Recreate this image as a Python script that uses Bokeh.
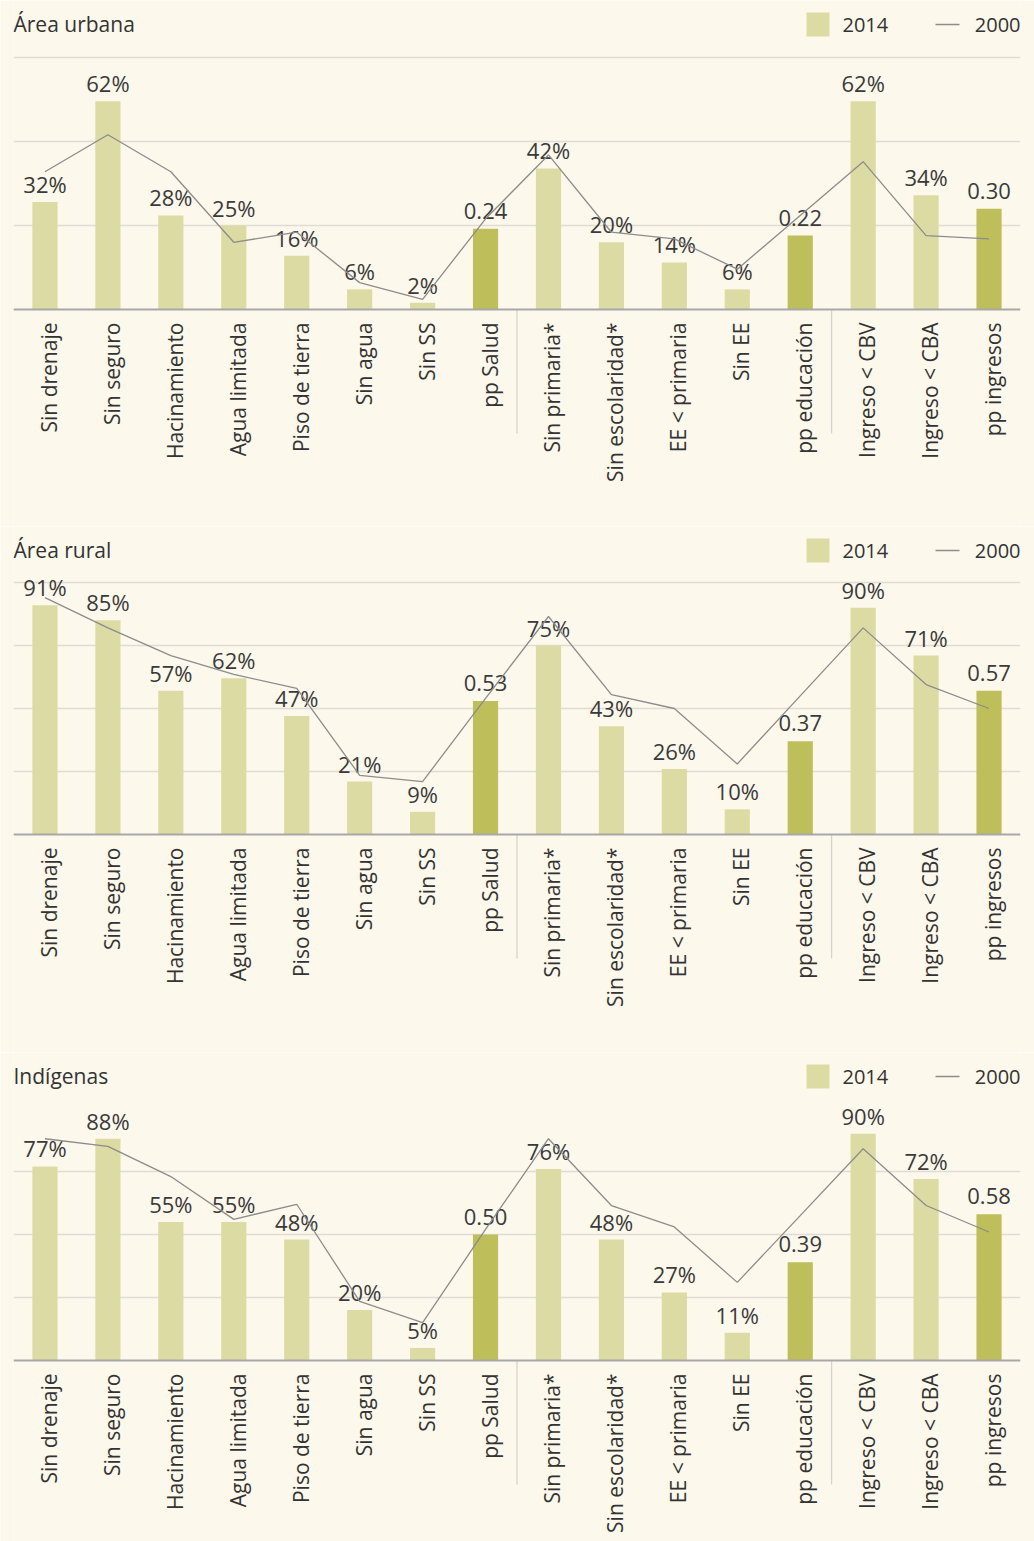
from math import pi

from bokeh.plotting import figure
from bokeh.models import FactorRange, Range1d, FixedTicker, ColumnDataSource, Span
from bokeh.layouts import column
from bokeh.embed import file_html
from bokeh.resources import INLINE
from bokeh.core.properties import value
from bokeh.transform import dodge

# ---------------- data ----------------
categories = ["Sin drenaje", "Sin seguro", "Hacinamiento", "Agua limitada",
              "Piso de tierra", "Sin agua", "Sin SS", "pp Salud",
              "Sin primaria*", "Sin escolaridad*", "EE < primaria", "Sin EE",
              "pp educación", "Ingreso < CBV", "Ingreso < CBA", "pp ingresos"]
group_starts = ["Sin primaria*", "Ingreso < CBV"]

series_labels = ["2014", "2000"]

urbana_2014 = [0.32, 0.62, 0.28, 0.25, 0.16, 0.06, 0.02, 0.24,
               0.42, 0.20, 0.14, 0.06, 0.22, 0.62, 0.34, 0.30]
urbana_2000 = [0.41, 0.52, 0.41, 0.20, 0.23, 0.08, 0.03, 0.27,
               0.46, 0.23, 0.21, 0.12, 0.28, 0.44, 0.22, 0.21]

rural_2014 = [0.91, 0.85, 0.57, 0.62, 0.47, 0.21, 0.09, 0.53,
              0.75, 0.43, 0.26, 0.10, 0.37, 0.90, 0.71, 0.57]
rural_2000 = [0.94, 0.82, 0.71, 0.635, 0.58, 0.235, 0.21, 0.54,
              0.865, 0.555, 0.50, 0.28, 0.55, 0.82, 0.595, 0.50]

indigenas_2014 = [0.77, 0.88, 0.55, 0.55, 0.48, 0.20, 0.05, 0.50,
                  0.76, 0.48, 0.27, 0.11, 0.39, 0.90, 0.72, 0.58]
indigenas_2000 = [0.88, 0.85, 0.73, 0.56, 0.62, 0.235, 0.15, 0.52,
                  0.88, 0.615, 0.53, 0.31, 0.575, 0.84, 0.615, 0.51]

panel_titles = ["Área urbana", "Área rural", "Indígenas"]
grid_max = [0.75, 1.0, 1.0]
grid_ticks = [[0.25, 0.5, 0.75], [0.25, 0.5, 0.75, 1.0], [0.25, 0.5, 0.75]]

# ---------------- style ----------------
BG = "#FDF8EC"
LIGHT = "#DCDBA3"
DARK = "#BEBE5A"
GRID = "#DFDCD3"
BASE = "#A8A8A8"
LINE = "#8C8C8C"
SEP = "#C9C9C9"
TXT = "#333333"
FONT = "Open Sans"

W = 1034
ML, MR = 13, 14
FRAME_W = W - ML - MR
BAND = FRAME_W / len(categories)
GRID_PX = 252          # pixels from baseline to the top gridline value
HEIGHTS = [526, 526, 489]
BASE_PX = [309, 308, 308]


def panel(title, v2014, v2000, gmax, ticks, height, base_px):
    ppu = GRID_PX / gmax
    y_top = base_px / ppu
    y_bot = -(height - base_px) / ppu
    p = figure(width=W, height=height, title=None,
               x_range=FactorRange(factors=categories, range_padding=0),
               y_range=Range1d(y_bot, y_top),
               output_backend="svg", toolbar_location=None,
               min_border_left=ML, min_border_right=MR,
               min_border_top=0, min_border_bottom=0,
               background_fill_color=BG, border_fill_color=BG,
               outline_line_color=None)
    p.xaxis.visible = False
    p.yaxis.visible = False
    p.xgrid.grid_line_color = None
    p.ygrid.ticker = FixedTicker(ticks=ticks)
    p.ygrid.grid_line_color = GRID
    p.ygrid.grid_line_width = 1.5

    is_index = [c.startswith("pp") for c in categories]
    colors = [DARK if f else LIGHT for f in is_index]
    labels = [f"{v:.2f}" if f else f"{round(v * 100)}%" for v, f in zip(v2014, is_index)]
    src = ColumnDataSource(dict(cat=categories, v14=v2014, v00=v2000,
                                color=colors, label=labels))

    p.vbar(x="cat", top="v14", bottom=0, width=0.4, fill_color="color",
           line_color=None, source=src)
    p.add_layout(Span(location=0, dimension="width", line_color=BASE, line_width=2))

    # separators between groups (below the baseline)
    sep_src = ColumnDataSource(dict(start=group_starts))
    p.segment(x0=dodge("start", -0.5, range=p.x_range), y0=0,
              x1=dodge("start", -0.5, range=p.x_range), y1=-124 / ppu,
              line_color=SEP, line_width=1, source=sep_src)

    # category labels
    p.text(x="cat", y=0, text="cat", angle=pi / 2, text_align="right",
           text_baseline="middle", x_offset=4, y_offset=13, text_font=value(FONT),
           text_font_size="21px", text_color=TXT, source=src)

    # value labels
    p.text(x="cat", y="v14", text="label", text_align="center",
           text_baseline="alphabetic", y_offset=-18, text_font=value(FONT),
           text_font_size="22px", text_color="#3a3a3a", source=src)

    # 2000 line
    p.line(x="cat", y="v00", line_color=LINE, line_width=1.3, source=src)

    # title
    p.text(x=[0], y=[y_top], text=[title], y_offset=23, text_align="left",
           text_baseline="alphabetic", text_font=value(FONT),
           text_font_size="21px", text_color=TXT)

    # legend
    p.quad(left=[793 / BAND], right=[816 / BAND], top=[y_top - 12 / ppu],
           bottom=[y_top - 36 / ppu], fill_color=LIGHT, line_color=None)
    p.text(x=[829 / BAND], y=[y_top], text=[series_labels[0]], y_offset=24,
           text_align="left", text_baseline="alphabetic", text_font=value(FONT),
           text_font_size="20px", text_color=TXT)
    p.segment(x0=[922 / BAND], x1=[946 / BAND], y0=[y_top - 24 / ppu],
              y1=[y_top - 24 / ppu], line_color=LINE, line_width=1.3)
    p.text(x=[len(categories)], y=[y_top], text=[series_labels[1]], y_offset=24,
           text_align="right", text_baseline="alphabetic", text_font=value(FONT),
           text_font_size="20px", text_color=TXT)
    return p


panels = [
    panel(panel_titles[0], urbana_2014, urbana_2000, grid_max[0], grid_ticks[0], HEIGHTS[0], BASE_PX[0]),
    panel(panel_titles[1], rural_2014, rural_2000, grid_max[1], grid_ticks[1], HEIGHTS[1], BASE_PX[1]),
    panel(panel_titles[2], indigenas_2014, indigenas_2000, grid_max[2], grid_ticks[2], HEIGHTS[2], BASE_PX[2]),
]

layout = column(*panels, spacing=0)
open("out.html", "w").write(file_html(layout, INLINE))
